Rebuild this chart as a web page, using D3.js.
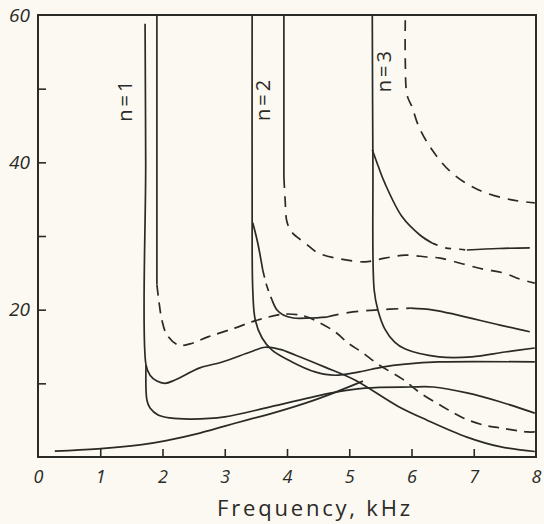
<!DOCTYPE html>
<html>
<head>
<meta charset="utf-8">
<script src="https://cdn.jsdelivr.net/npm/d3@7"></script>
<style>
  html, body { margin: 0; padding: 0; background: #fbf9f1; }
  svg { display: block; }
  text { font-family: "Open Sans", "DejaVu Sans", sans-serif; fill: #2a2a26; }
</style>
</head>
<body>
<svg id="chart" width="544" height="524"></svg>
<script>
// ---- data (frequency in kHz, value) ----
const xTicks = [0, 1, 2, 3, 4, 5, 6, 7, 8];
const yTicks = [10, 20, 30, 40, 50, 60];
const yLabelled = [20, 40, 60];
const xTitle = "Frequency, kHz";
const modeLabels = ["n=1", "n=2", "n=3"];
const modeLabelAt = [[1.40, 48.5], [3.62, 48.6], [5.56, 52.5]];

// n = 1
const n1Middle = [[1.72,58.8],[1.73,40],[1.735,12.5],[1.80,11.1],[1.91,10.3],[2.04,10.0],[2.20,10.45],[2.60,12.1],[2.96,12.9],[3.41,14.25],[3.65,14.9],[3.89,14.6],[4.13,13.85],[4.61,12.2],[5.09,10.45],[5.78,6.9],[6.25,5.0],[6.89,2.7],[7.42,1.4],[7.98,0.75]];
const n1Lower = [[1.735,12.5],[1.75,7.7],[1.80,6.65],[1.93,5.7],[2.12,5.3],[2.47,5.15],[3.00,5.45],[3.73,6.8],[4.72,8.7],[5.25,9.35],[5.98,9.5],[6.35,9.5],[6.89,8.7],[7.42,7.5],[7.98,5.95]];
const n1Upper = [[1.91,60],[1.91,40],[1.91,23.4]];
const n1UpperDashed = [[1.91,23.4],[1.94,21.3],[1.99,18.6],[2.07,16.6],[2.25,15.2],[2.44,15.35],[2.73,16.3],[3.16,17.5],[3.53,18.6],[3.97,19.4],[4.29,19.1],[4.51,18.3],[4.77,17.0],[5.00,15.35],[5.20,14.25],[5.48,12.5],[5.85,10.6],[6.14,8.7],[6.51,6.8],[6.83,5.3],[7.15,4.35],[7.42,3.95],[7.86,3.4],[7.98,3.4]];
const baseline = [[0.27,0.8],[0.96,1.1],[1.64,1.65],[2.04,2.2],[2.60,3.25],[3.00,4.2],[3.41,5.15],[3.73,5.85],[4.45,7.75],[5.22,10.3]];

// n = 2
const n2Lower = [[3.44,60],[3.44,35],[3.45,22.7],[3.49,18.6],[3.60,16.15],[3.76,14.5],[4.08,12.9],[4.45,11.55],[4.77,11.1],[5.16,11.55],[5.53,12.2],[5.90,12.6],[6.44,12.9],[7.98,12.9]];
const n2Upper = [[3.45,31.8],[3.53,29.05],[3.61,25.4]];
const n2UpperMidDashed = [[3.61,25.4],[3.68,23.1],[3.76,21.3]];
const n2UpperLow = [[3.76,21.3],[3.84,19.95],[3.94,19.27],[4.10,18.87],[4.37,18.87],[4.64,19.0]];
const n2UpperDashed = [[4.64,19.0],[4.98,19.6],[5.41,19.95],[5.98,20.2]];
const n2UpperEnd = [[5.98,20.2],[6.35,19.95],[6.73,19.3],[7.42,17.9],[7.90,17.0]];
const n2Cut = [[3.95,60],[3.95,38.0]];
const n2CutDashed = [[3.95,38.0],[3.97,34.9],[4.00,31.9],[4.08,30.5],[4.29,29.05],[4.50,27.7],[4.85,26.9],[5.25,26.5],[5.57,27.0],[5.90,27.4],[6.25,27.15],[6.46,27.0],[6.83,26.2],[7.15,25.5],[7.47,25.0],[7.74,24.15],[7.98,23.6]];

// n = 3
const n3Lower = [[5.37,60],[5.38,40],[5.40,22.7],[5.46,19.95],[5.57,17.4],[5.73,15.6],[5.90,14.65],[6.44,13.6],[6.97,13.6],[7.50,14.25],[7.98,14.8]];
const n3Upper = [[5.37,41.7],[5.46,39.6],[5.57,37.2],[5.85,32.6],[6.14,30.1],[6.33,29.05]];
const n3UpperDashed = [[6.33,29.05],[6.54,28.4],[6.78,28.2],[6.89,28.1]];
const n3UpperEnd = [[6.89,28.1],[7.40,28.3],[7.90,28.4]];
const n3Cut = [[5.90,59.3],[5.90,53.9],[5.93,49.1],[6.01,47.5],[6.12,44.8],[6.33,41.7],[6.65,38.55],[7.08,36.25],[7.61,34.9],[7.98,34.5]];

// ---- layout ----
const svg = d3.select("#chart");
const ink = "#2a2a26";
const x = d3.scaleLinear().domain([0, 8]).range([38, 536]);
const y = d3.scaleLinear().domain([0, 60]).range([457, 15]);

const line = d3.line().x(d => x(d[0])).y(d => y(d[1])).curve(d3.curveCatmullRom.alpha(0.5));

const series = [
  { data: n1Middle, dash: null },
  { data: n1Lower, dash: null },
  { data: n1Upper, dash: null },
  { data: n1UpperDashed, dash: "11,7" },
  { data: baseline, dash: null },
  { data: n2Lower, dash: null },
  { data: n2Upper, dash: null },
  { data: n2UpperMidDashed, dash: "8,6" },
  { data: n2UpperLow, dash: null },
  { data: n2UpperDashed, dash: "12,8" },
  { data: n2UpperEnd, dash: null },
  { data: n2Cut, dash: null },
  { data: n2CutDashed, dash: "11,8" },
  { data: n3Lower, dash: null },
  { data: n3Upper, dash: null },
  { data: n3UpperDashed, dash: "6,8" },
  { data: n3UpperEnd, dash: null },
  { data: n3Cut, dash: "11,8" }
];

svg.append("g").selectAll("path").data(series).join("path")
  .attr("d", d => line(d.data))
  .attr("fill", "none")
  .attr("stroke", ink)
  .attr("stroke-width", 1.7)
  .attr("stroke-linecap", "butt")
  .attr("stroke-dasharray", d => d.dash);

// axes
const xAxis = d3.axisBottom(x).tickValues(xTicks).tickSize(-8).tickSizeOuter(0).tickPadding(13)
  .tickFormat(d3.format("d"));
const gx = svg.append("g").attr("transform", `translate(0,${y(0)})`).call(xAxis);
gx.select(".domain").remove();
gx.selectAll(".tick line").attr("stroke", ink).attr("stroke-width", 1.6)
  .filter(d => d === 0 || d === 8).remove();
gx.selectAll(".tick text").attr("font-size", 18).attr("fill", ink).style("font-style", "italic");

const yAxis = d3.axisLeft(y).tickValues(yTicks).tickSize(-8).tickSizeOuter(0).tickPadding(8)
  .tickFormat(d => yLabelled.includes(d) ? d : "");
const gy = svg.append("g").attr("transform", `translate(${x(0)},0)`).call(yAxis);
gy.select(".domain").remove();
gy.selectAll(".tick line").attr("stroke", ink).attr("stroke-width", 1.6)
  .filter(d => d === 60).remove();
gy.selectAll(".tick text").attr("font-size", 19).attr("fill", ink).style("font-style", "italic");

// frame
svg.append("rect")
  .attr("x", x(0)).attr("y", y(60))
  .attr("width", x(8) - x(0)).attr("height", y(0) - y(60))
  .attr("fill", "none").attr("stroke", ink).attr("stroke-width", 2);

// mode labels
svg.append("g").selectAll("text").data(modeLabels).join("text")
  .attr("transform", (d, i) => `translate(${x(modeLabelAt[i][0])},${y(modeLabelAt[i][1])}) rotate(-90)`)
  .attr("text-anchor", "middle")
  .attr("dy", "0.35em")
  .attr("font-size", 20)
  .attr("letter-spacing", 3)
  .text(d => d);

// x title
svg.append("text")
  .attr("x", 315).attr("y", 516)
  .attr("text-anchor", "middle")
  .attr("font-size", 22)
  .attr("letter-spacing", 2.8)
  .text(xTitle);
</script>
</body>
</html>
